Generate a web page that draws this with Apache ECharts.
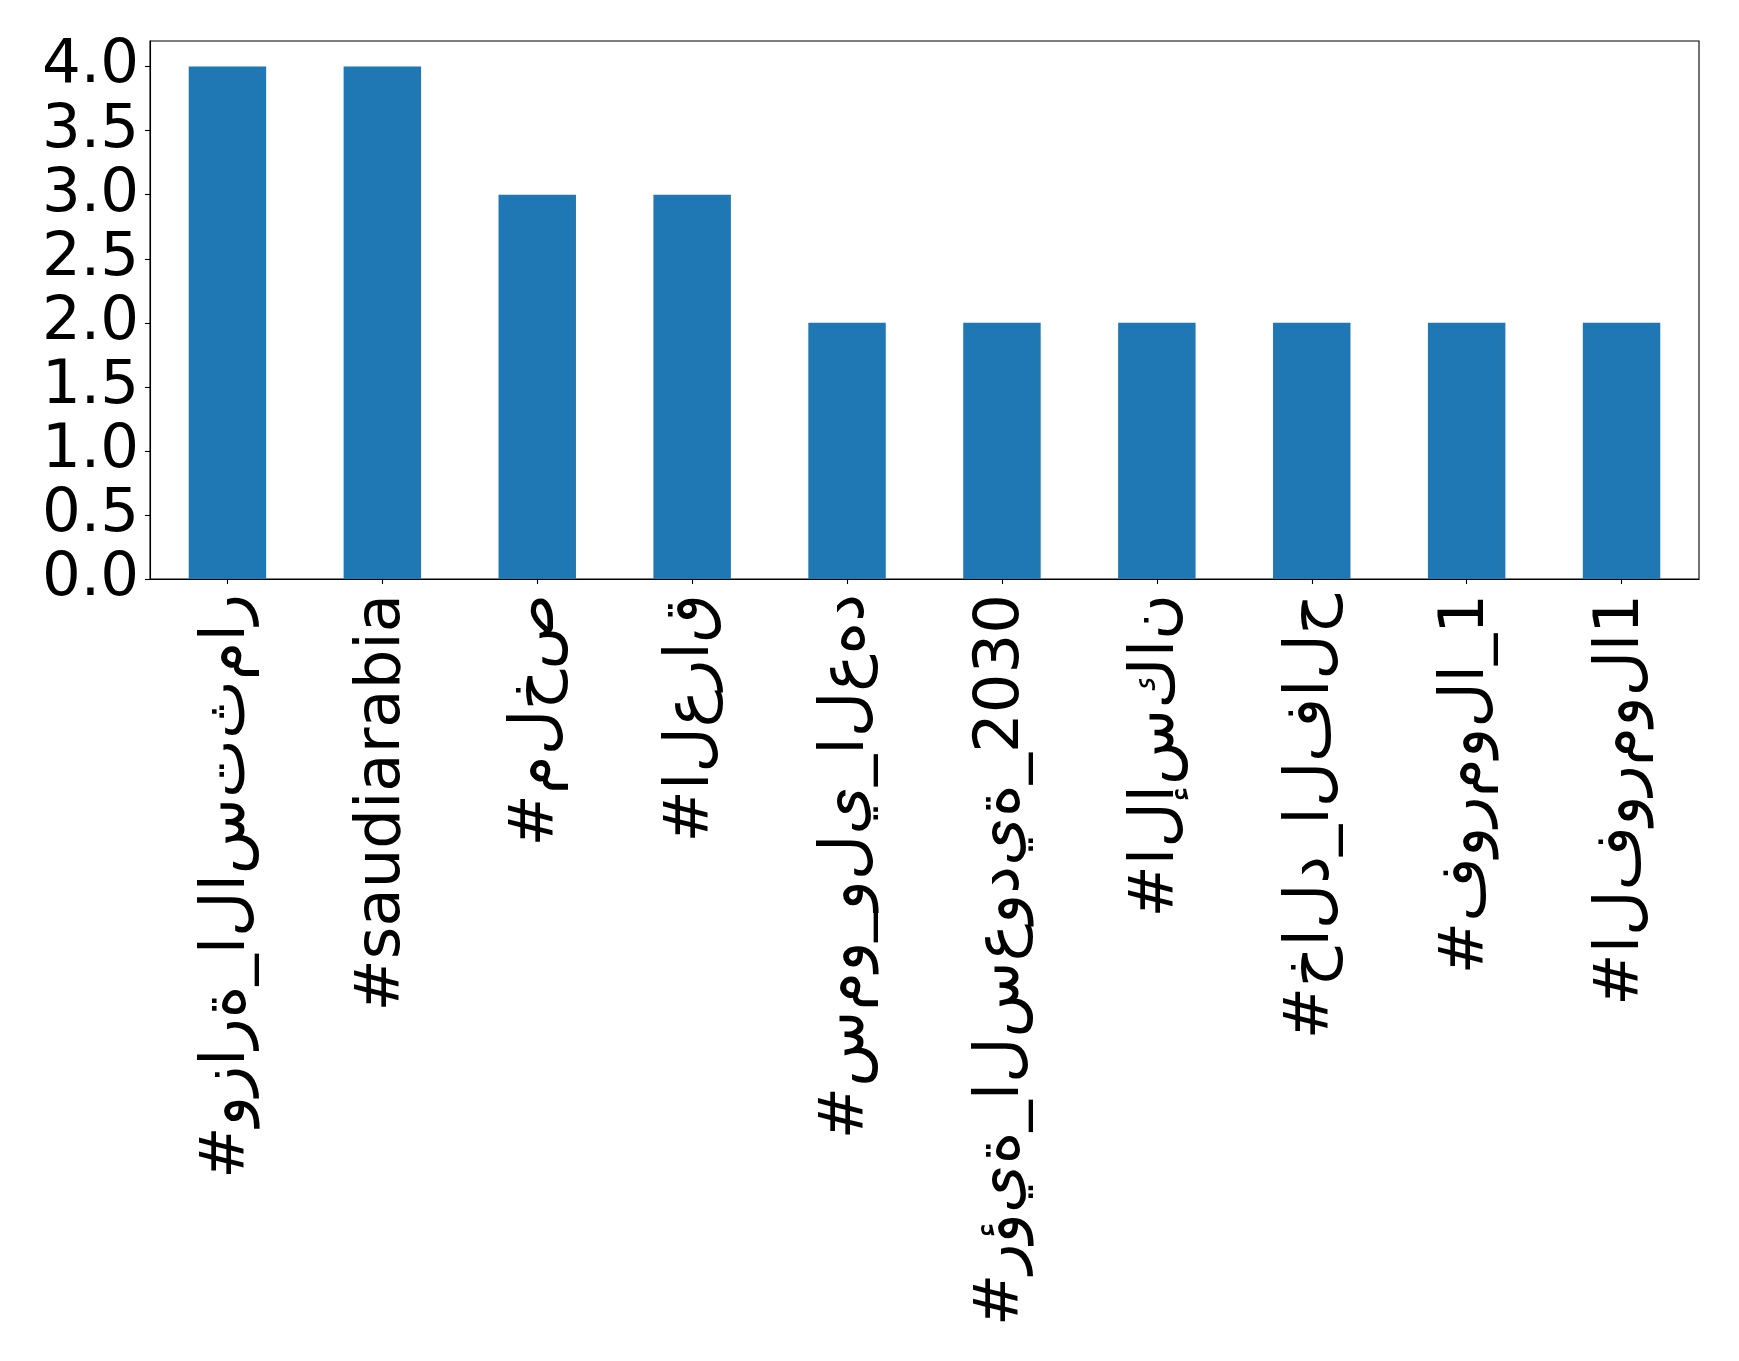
<!DOCTYPE html>
<html>
<head>
<meta charset="utf-8">
<script src="https://cdn.jsdelivr.net/npm/echarts@6/dist/echarts.min.js"></script>
<style>
html,body{margin:0;padding:0;background:#fff;}
#chart{width:1739px;height:1361px;}
</style>
</head>
<body>
<div id="chart"></div>
<script>
const categories = [
  "#وزارة_الاستثمار",
  "#saudiarabia",
  "#ملخص",
  "#العراق",
  "#سمو_ولي_العهد",
  "#رؤية_السعودية_2030",
  "#الإسكان",
  "#خالد_الفالح",
  "#فورمولا_1",
  "#الفورمولا1"
];
const counts = [4, 4, 3, 3, 2, 2, 2, 2, 2, 2];
const yMin = 0, yMax = 4.2, yStep = 0.5;

// matplotlib draws the glyphs unshaped, left to right in logical order
function asDrawn(s) {
  return '\u202D' + Array.from(s).join('\u200C') + '\u202C';
}

const chart = echarts.init(document.getElementById('chart'), null, {renderer: 'canvas'});
chart.setOption({
  animation: false,
  backgroundColor: '#ffffff',
  grid: {
    left: 150, right: 40, top: 41, bottom: 782,
    show: true, borderColor: '#000', borderWidth: 1.1,
    containLabel: false, outerBoundsMode: 'none'
  },
  xAxis: {
    type: 'category',
    data: categories,
    axisLine: {show: true, lineStyle: {color: '#000', width: 1.1}},
    axisTick: {show: true, alignWithLabel: true, length: 5, lineStyle: {color: '#000', width: 1.1}},
    axisLabel: {
      rotate: 90, interval: 0, margin: 15,
      fontFamily: 'DejaVu Sans', fontSize: 62.5, color: '#000',
      formatter: asDrawn
    },
    splitLine: {show: false}
  },
  yAxis: {
    type: 'value',
    min: yMin, max: yMax, interval: yStep,
    axisLine: {show: true, lineStyle: {color: '#000', width: 1.1}},
    axisTick: {show: true, length: 5, lineStyle: {color: '#000', width: 1.1}},
    axisLabel: {
      showMaxLabel: false, margin: 11,
      fontFamily: 'DejaVu Sans', fontSize: 61, color: '#000',
      formatter: v => v.toFixed(1)
    },
    splitLine: {show: false}
  },
  series: [{
    type: 'bar',
    data: counts,
    barWidth: '50%',
    itemStyle: {color: '#1f77b4'}
  }]
});
</script>
</body>
</html>
